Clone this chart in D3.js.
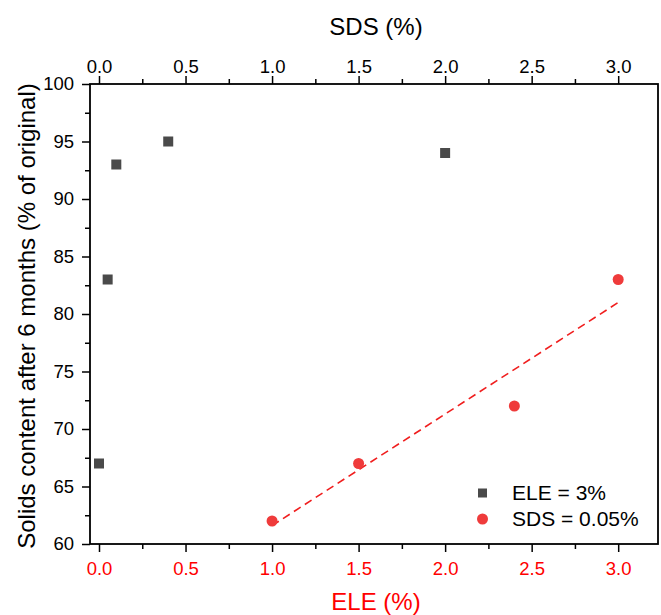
<!DOCTYPE html>
<html><head><meta charset="utf-8">
<script src="https://cdn.jsdelivr.net/npm/d3@7"></script>
<style>body{margin:0;background:#fff}svg{display:block}</style>
</head><body>
<script>
// Data
const sdsValues = [0.0, 0.05, 0.1, 0.4, 2.0];      // ELE = 3% series, x on top axis (SDS %)
const sdsSolids = [67, 83, 93, 95, 94];
const eleValues = [1.0, 1.5, 2.4, 3.0];            // SDS = 0.05% series, x on bottom axis (ELE %)
const eleSolids = [62, 67, 72, 83];
const fitX = [1.0, 3.0];                            // dashed linear fit (red series)
const fitY = [61.6, 81.0];
const xTicks = [0.0, 0.5, 1.0, 1.5, 2.0, 2.5, 3.0];
const yTicks = [60, 65, 70, 75, 80, 85, 90, 95, 100];
const legendLabels = ["ELE = 3%", "SDS = 0.05%"];

const W = 661, H = 615;
const L = 90, R = 658, T = 84, B = 544;
const svg = d3.select("body").append("svg").attr("width", W).attr("height", H)
  .style("font-family", "'Liberation Sans', Arial, sans-serif");

const x = d3.scaleLinear().domain([-0.052, 3.23]).range([L, R]);
const y = d3.scaleLinear().domain([60, 100]).range([B, T]);

const red = "#ff0000", markRed = "#ef3b3b", gray = "#4a4a4a";
const minorX = d3.range(0.25, 3.2, 0.5);
const minorY = d3.range(62.5, 100, 5);
const tickFont = "18.5px";

function styleAxis(g, color) {
  g.select(".domain").remove();
  g.selectAll(".tick line").attr("stroke", "#000").attr("stroke-width", 1.5);
  g.selectAll(".tick text").attr("fill", color).style("font-size", tickFont);
}
function minor(g) {
  g.select(".domain").remove();
  g.selectAll("line").attr("stroke", "#000").attr("stroke-width", 1.5);
}

// bottom axis
const gb = svg.append("g").attr("transform", `translate(0,${B})`)
  .call(d3.axisBottom(x).tickValues(xTicks).tickFormat(d3.format(".1f")).tickSizeOuter(0).tickSize(8).tickPadding(10));
styleAxis(gb, red);
svg.append("g").attr("transform", `translate(0,${B})`)
  .call(d3.axisBottom(x).tickValues(minorX).tickFormat("").tickSize(5)).call(minor);

// top axis
const gt = svg.append("g").attr("transform", `translate(0,${T})`)
  .call(d3.axisTop(x).tickValues(xTicks).tickFormat(d3.format(".1f")).tickSizeOuter(0).tickSize(8).tickPadding(3));
styleAxis(gt, "#000");
svg.append("g").attr("transform", `translate(0,${T})`)
  .call(d3.axisTop(x).tickValues(minorX).tickFormat("").tickSize(5)).call(minor);

// left axis
const gl = svg.append("g").attr("transform", `translate(${L},0)`)
  .call(d3.axisLeft(y).tickValues(yTicks).tickSizeOuter(0).tickSize(8).tickPadding(8));
styleAxis(gl, "#000");
svg.append("g").attr("transform", `translate(${L},0)`)
  .call(d3.axisLeft(y).tickValues(minorY).tickFormat("").tickSize(5)).call(minor);

// frame
svg.append("rect").attr("x", L).attr("y", T).attr("width", R - L).attr("height", B - T)
  .attr("fill", "none").attr("stroke", "#000").attr("stroke-width", 1.8);

// axis titles
svg.append("text").attr("x", 376).attr("y", 35).attr("text-anchor", "middle")
  .style("font-size", "24px").attr("fill", "#000").text("SDS (%)");
svg.append("text").attr("x", 376).attr("y", 610).attr("text-anchor", "middle")
  .style("font-size", "24px").attr("fill", red).text("ELE (%)");
svg.append("text").attr("transform", `translate(35,316) rotate(-90)`).attr("text-anchor", "middle")
  .style("font-size", "24px").attr("fill", "#000").text("Solids content after 6 months (% of original)");

// fit line
svg.append("path").datum(d3.zip(fitX, fitY))
  .attr("d", d3.line().x(d => x(d[0])).y(d => y(d[1])))
  .attr("stroke", "#f01e1e").attr("stroke-width", 1.6).attr("stroke-dasharray", "8,5").attr("fill", "none");

// squares
const s = 10;
svg.append("g").selectAll("rect").data(d3.zip(sdsValues, sdsSolids)).join("rect")
  .attr("x", d => x(d[0]) - s / 2).attr("y", d => y(d[1]) - s / 2)
  .attr("width", s).attr("height", s).attr("fill", gray);

// circles
svg.append("g").selectAll("circle").data(d3.zip(eleValues, eleSolids)).join("circle")
  .attr("cx", d => x(d[0])).attr("cy", d => y(d[1])).attr("r", 5.5).attr("fill", markRed);

// legend
const lg = svg.append("g");
lg.append("rect").attr("x", 478).attr("y", 488.5).attr("width", 9).attr("height", 9).attr("fill", gray);
lg.append("circle").attr("cx", 482.5).attr("cy", 519).attr("r", 5.5).attr("fill", markRed);
lg.selectAll("text").data(legendLabels).join("text")
  .attr("x", 512).attr("y", (d, i) => 500 + i * 26)
  .style("font-size", "21px").attr("fill", "#000").text(d => d);
</script>
</body></html>
